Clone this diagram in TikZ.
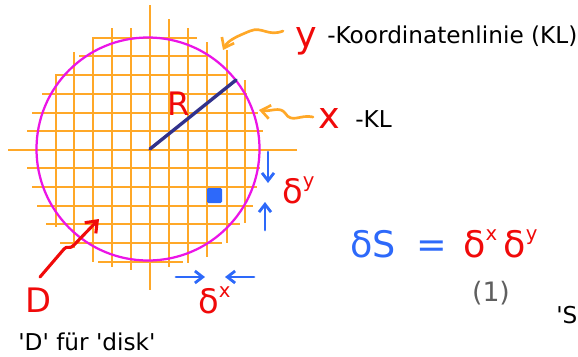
\documentclass[tikz,border=0pt]{standalone}
\usepackage{fontspec}
\setmainfont{DejaVu Sans}
\usetikzlibrary{arrows.meta}
\definecolor{KLorange}{RGB}{255,168,40}
\definecolor{DiskMagenta}{RGB}{235,20,230}
\definecolor{RadiusNavy}{RGB}{50,50,140}
\definecolor{PenBlue}{RGB}{45,105,250}
\definecolor{PenRed}{RGB}{240,10,10}
\definecolor{PenGray}{RGB}{95,95,95}
\newcommand\delsup[1]{δ\raisebox{0.45em}{\fontsize{14}{14}\selectfont #1}}
\newcommand\sq{\textquotesingle}

\begin{document}
\begin{tikzpicture}[x=0.025cm, y=-0.025cm,
  kl/.style={KLorange, line width=1.6pt},
  txt/.style={font=\fontsize{16.5}{19}\selectfont, inner sep=0pt, anchor=base west},
  pen/.style={text=PenRed, inner sep=0pt, anchor=base},
  barr/.style={-{Straight Barb[angle=75:7pt]}, PenBlue, line width=2pt, line cap=round},
  oarr/.style={-{Straight Barb[angle=75:8pt]}, KLorange, line width=1.9pt, line cap=round, line join=round},
  rarr/.style={-{Straight Barb[angle=75:9pt]}, PenRed, line width=2.2pt, line cap=round, line join=round}]
\useasboundingbox (0,0) rectangle (578,356);
% Koordinatenlinien
\foreach \y/\a/\b in {38/93/197, 56/79/207, 75/55/227, 94/42/247, 113/32/258, 131/27/263, 150/8/297,
  168/27/260, 187/32/257, 206/37/253, 224/46/240, 243/60/222, 262/98/183}
  \draw[kl] (\a,\y) -- (\b,\y);
\foreach \x/\a/\b in {56/75/227, 74/52/248, 93/37/262, 112/28/267, 131/28/270, 150/5/290,
  169/19/267, 188/28/263, 207/42/257, 227/50/243, 245/80/223}
  \draw[kl] (\x,\a) -- (\x,\b);
% disk
\draw[DiskMagenta, line width=1.6pt] (148,149) circle[radius=111.5];
\coordinate (ctr) at (150,149);
\coordinate (rim) at (236,80);
\draw[RadiusNavy, line width=2.4pt, line cap=round] (ctr) -- (rim);
\fill[PenBlue, rounded corners=1pt] (207,188) rectangle (222,203);
% labels
\node[pen, font=\fontsize{23}{23}\selectfont] (rlab) at (179,115) {R};
\node[pen, font=\fontsize{26}{26}\selectfont] (ylab) at (306,47) {y};
\node[txt] (yKL) at (327,43) {-Koordinatenlinie (KL)};
\node[pen, font=\fontsize{26}{26}\selectfont] (xlab) at (329,128) {x};
\node[txt] (xKL) at (355,127) {-KL};
\node[pen, font=\fontsize{24}{24}\selectfont] (dlab) at (38,312) {D};
\node[txt] (disk) at (18,350) {\sq D\sq{} für \sq disk\sq};
\node[pen, anchor=base west, font=\fontsize{24}{24}\selectfont] (dy) at (282,203) {\delsup{y}};
\node[pen, anchor=base west, font=\fontsize{24}{24}\selectfont] (dx) at (198,313) {\delsup{x}};
\node[pen, anchor=base west, text=PenBlue, font=\fontsize{26}{26}\selectfont] (dS) at (350,257) {δS};
\node[pen, text=PenBlue, font=\fontsize{26}{26}\selectfont] (eq) at (432,257) {=};
\node[pen, anchor=base west, font=\fontsize{26}{26}\selectfont] (dxdy) at (463,257) {\delsup{x}\,\delsup{y}};
\node[text=PenGray, font=\fontsize{19}{19}\selectfont] (eqno) at (491,293) {(1)};
\node[txt] (scut) at (556,323) {\sq S};
% arrows
\coordinate (ytail) at (283,31); \coordinate (ytip) at (223,50);
\coordinate (xtail) at (313,117); \coordinate (xtip) at (259,110);
\coordinate (dtail) at (40,277); \coordinate (dtip) at (99,219);
\draw[oarr] (ytail) .. controls (268,37) and (262,26) .. (250,31) .. controls (238,36) and (228,40) .. (ytip);
\draw[oarr] (xtail) .. controls (300,114) and (292,124) .. (285,113) .. controls (280,106) and (270,112) .. (xtip);
\draw[rarr] (dtail) -- (64,249) .. controls (67,245) and (70,250) .. (74,245) -- (dtip);
\coordinate (dyA) at (268,152); \coordinate (dyB) at (268,183);
\coordinate (dyC) at (265,230); \coordinate (dyD) at (265,202);
\coordinate (dxA) at (176,277); \coordinate (dxB) at (205,277);
\coordinate (dxC) at (254,277); \coordinate (dxD) at (225,277);
\draw[barr] (dyA) -- (dyB); \draw[barr] (dyC) -- (dyD);
\draw[barr] (dxA) -- (dxB); \draw[barr] (dxC) -- (dxD);
\end{tikzpicture}
\end{document}
